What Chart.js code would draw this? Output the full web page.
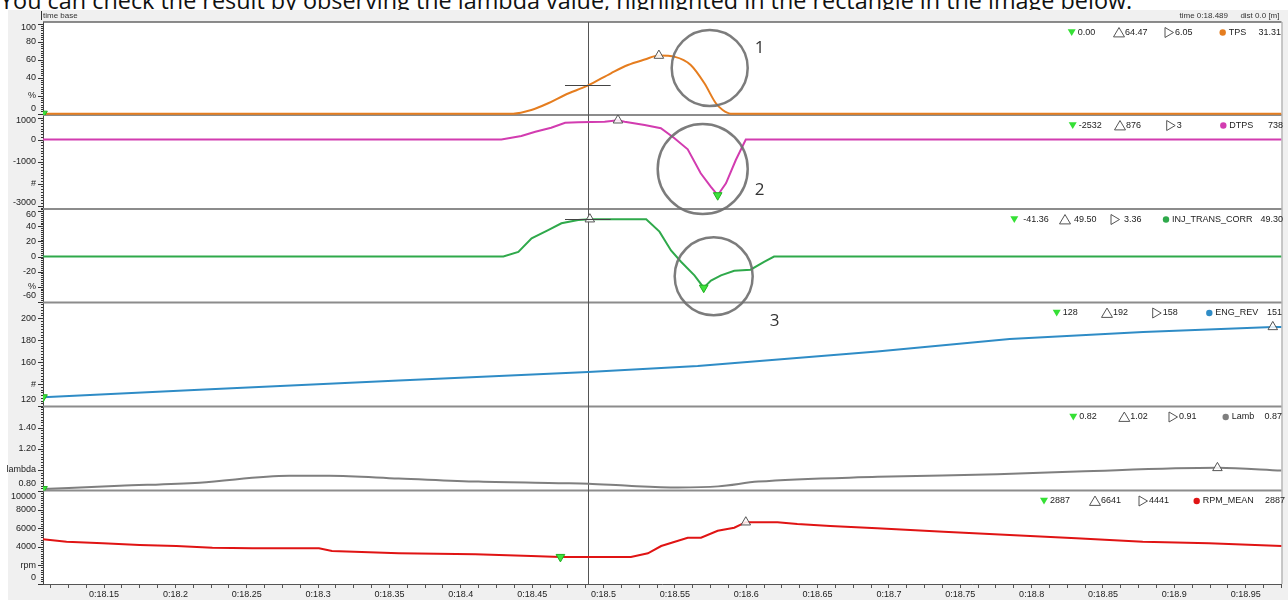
<!DOCTYPE html>
<html>
<head>
<meta charset="utf-8">
<script src="https://cdn.jsdelivr.net/npm/chart.js@4.4.0/dist/chart.umd.min.js"></script>
<style>
  html, body { margin: 0; padding: 0; background: #fff; overflow: hidden; }
  #wrap { position: relative; width: 1288px; height: 600px; }
  #caption { position: absolute; left: 0; top: -11px; font: 23.4px "Open Sans", sans-serif; line-height: 23.4px; white-space: nowrap; color: #111; }
  #chart { position: absolute; left: 0; top: 0; }
</style>
</head>
<body>
<div id="wrap">
  <div id="caption">You can check the result by observing the lambda value, highlighted in the rectangle in the image below.</div>
  <canvas id="chart" width="1288" height="600"></canvas>
</div>
<script>
(function() {
  // time base (seconds)
  const timeMin = 18.1072;
  const timeMax = 18.9751;
  const cursorTime = 18.489;

  // TPS [%]
  const tpsT = [18.1072, 18.4368, 18.4494, 18.4612, 18.4729, 18.4892, 18.5052, 18.5171, 18.5288, 18.5388, 18.5500, 18.5611, 18.5707, 18.5786, 18.5835, 18.5891, 18.9751];
  const tpsV = [0, 0, 4, 11.5, 20.7, 31.3, 44.8, 54, 60, 64.47, 63, 54, 33.7, 11.8, 4, 0, 0];
  const tpsTicks = [100, 80, 60, 40, 20, 0];
  const tpsTickText = ['100', '80', '60', '40', '%', '0'];
  const tpsStats = ['0.00', '64.47', '6.05', '31.31'];

  // DTPS [#]
  const dtpsT = [18.1072, 18.4284, 18.4424, 18.4522, 18.4633, 18.4731, 18.4822, 18.5008, 18.5101, 18.5148, 18.5288, 18.5402, 18.5497, 18.5590, 18.5681, 18.5751, 18.5800, 18.5858, 18.5927, 18.5997, 18.9751];
  const dtpsV = [0, 0, 159, 355, 536, 760, 790, 810, 876, 810, 660, 509, 55, -445, -1536, -2145, -2532, -1990, -932, 0, 0];
  const dtpsTicks = [1000, 0, -1000, -2000, -3000];
  const dtpsTickText = ['1000', '0', '-1000', '#', '-3000'];
  const dtpsStats = ['-2532', '876', '3', '738'];

  // INJ_TRANS_CORR [%]
  const injT = [18.1072, 18.4298, 18.4403, 18.4496, 18.4612, 18.4705, 18.4822, 18.4904, 18.5299, 18.5392, 18.5473, 18.5543, 18.5637, 18.5702, 18.5753, 18.5823, 18.5916, 18.6030, 18.6125, 18.6195, 18.9751];
  const injV = [0, 0, 6, 24, 35, 44, 48.5, 49.5, 49.5, 33, 8, -7, -25, -41.36, -32, -25, -19, -17.5, -7, 0, 0];
  const injTicks = [60, 40, 20, 0, -20, -40, -60];
  const injTickText = ['60', '40', '20', '0', '-20', '%', '-60'];
  const injStats = ['-41.36', '49.50', '3.36', '49.30'];

  // ENG_REV [#]
  const engT = [18.1072, 18.2168, 18.3565, 18.4892, 18.5660, 18.6917, 18.7846, 18.8782, 18.9690, 18.9751];
  const engV = [128, 134.8, 143.3, 151, 156.5, 169.6, 180.9, 187.3, 192, 192];
  const engTicks = [200, 180, 160, 140, 120];
  const engTickText = ['200', '180', '160', '#', '120'];
  const engStats = ['128', '192', '158', '151'];

  // Lamb [lambda]
  const lambT = [18.1072, 18.1610, 18.2168, 18.2797, 18.3077, 18.3565, 18.4124, 18.4686, 18.4895, 18.5174, 18.5524, 18.5803, 18.6083, 18.6921, 18.7759, 18.8318, 18.9302, 18.9750];
  const lambV = [0.82, 0.85, 0.88, 0.945, 0.945, 0.92, 0.89, 0.875, 0.87, 0.85, 0.835, 0.845, 0.89, 0.935, 0.96, 0.985, 1.02, 0.995];
  const lambTicks = [1.4, 1.2, 1.0, 0.8];
  const lambTickText = ['1.40', '1.20', 'lambda', '0.80'];
  const lambStats = ['0.82', '1.02', '0.91', '0.87'];

  // RPM_MEAN [rpm]
  const rpmT = [18.1072, 18.1237, 18.1491, 18.1749, 18.2006, 18.2259, 18.2538, 18.3006, 18.3097, 18.3565, 18.4101, 18.4494, 18.4698, 18.5192, 18.5311, 18.5404, 18.5590, 18.5683, 18.5800, 18.5916, 18.5997, 18.6219, 18.6358, 18.6589, 18.6917, 18.7383, 18.7846, 18.8313, 18.8779, 18.9242, 18.9752];
  const rpmV = [4790, 4530, 4357, 4170, 4065, 3880, 3815, 3815, 3525, 3275, 3170, 2985, 2887, 2890, 3275, 4065, 4960, 4960, 5720, 6040, 6641, 6641, 6440, 6230, 5980, 5610, 5250, 4900, 4530, 4357, 4065];
  const rpmTicks = [10000, 8000, 6000, 4000, 2000, 0];
  const rpmTickText = ['10000', '8000', '6000', '4000', 'rpm', '0'];
  const rpmStats = ['2887', '6641', '4441', '2887'];

  const FONT = '"Liberation Sans", Arial, sans-serif';

  const panels = [
    { id: 'yTps', name: 'TPS', color: '#e57d1f', t: tpsT, v: tpsV, ticks: tpsTicks, tickText: tpsTickText, stats: tpsStats,
      min: -1.5, max: 101.7, weight: 93, smooth: true, cursorMark: true, legX: [1071.7, 1119, 1169, 1222.7, 1281] },
    { id: 'yDtps', name: 'DTPS', color: '#d23cb0', t: dtpsT, v: dtpsV, ticks: dtpsTicks, tickText: dtpsTickText, stats: dtpsStats,
      min: -3159, max: 1114, weight: 94, legX: [1072.7, 1120, 1170.7, 1223.3, 1283] },
    { id: 'yInj', name: 'INJ_TRANS_CORR', color: '#2fa94b', t: injT, v: injV, ticks: injTicks, tickText: injTickText, stats: injStats,
      min: -61, max: 63, weight: 93.5, cursorMark: true, gap: 9, legX: [1014.3, 1065, 1115, 1166, 1283] },
    { id: 'yEng', name: 'ENG_REV', color: '#2f8cc6', t: engT, v: engV, ticks: engTicks, tickText: engTickText, stats: engStats,
      min: 119.6, max: 214.2, weight: 104, legX: [1056.7, 1107, 1156.7, 1209.3, 1282] },
    { id: 'yLamb', name: 'Lamb', color: '#7f7f7f', t: lambT, v: lambV, ticks: lambTicks, tickText: lambTickText, stats: lambStats,
      min: 0.806, max: 1.6, weight: 84, smooth: true, legX: [1073.3, 1124.3, 1173, 1225.7, 1282] },
    { id: 'yRpm', name: 'RPM_MEAN', color: '#e01414', t: rpmT, v: rpmV, ticks: rpmTicks, tickText: rpmTickText, stats: rpmStats,
      min: -40, max: 10070, weight: 93.5, legX: [1044, 1095, 1143, 1196.7, 1285] }
  ];

  // circled notes, anchored in data space of a panel
  const notes = [
    { axis: 'yTps', t: 18.5744, v: 50.6, r: 38, text: '1', dx: 50, dy: -20 },
    { axis: 'yDtps', t: 18.5695, v: -1341, r: 45, text: '2', dx: 57, dy: 21 },
    { axis: 'yInj', t: 18.5772, v: -26.3, r: 39, text: '3', dx: 61, dy: 45 }
  ];

  function argIndex(arr, better) {
    let k = 0;
    arr.forEach((v, i) => { if (better(v, arr[k])) k = i; });
    return k;
  }

  const datasets = [];
  panels.forEach(p => {
    datasets.push({
      data: p.t.map((t, i) => ({ x: t, y: p.v[i] })),
      yAxisID: p.id, xAxisID: 'x', order: 10,
      borderColor: p.color, borderWidth: 2, pointRadius: 0, fill: false,
      cubicInterpolationMode: p.smooth ? 'monotone' : 'default', tension: 0
    });
    const iMin = argIndex(p.v, (a, b) => a < b);
    const iMax = argIndex(p.v, (a, b) => a > b);
    datasets.push({
      data: [{ x: p.t[iMin], y: p.v[iMin] }], yAxisID: p.id, xAxisID: 'x', showLine: false, order: 1,
      pointStyle: 'triangle', rotation: 180, pointRadius: 5,
      pointBackgroundColor: '#3de23d', pointBorderColor: '#22b022', pointBorderWidth: 1
    });
    datasets.push({
      data: [{ x: p.t[iMax], y: p.v[iMax] }], yAxisID: p.id, xAxisID: 'x', showLine: false, order: 1,
      pointStyle: 'triangle', pointRadius: 5.5,
      pointBackgroundColor: 'rgba(255,255,255,0.85)', pointBorderColor: '#555', pointBorderWidth: 1
    });
  });

  const scales = {
    x: {
      type: 'linear', position: 'bottom', min: timeMin, max: timeMax,
      border: { display: true, color: '#555', width: 1 },
      grid: { display: true, drawOnChartArea: false, drawTicks: true, tickLength: 4, color: '#555' },
      ticks: {
        stepSize: 0.0125, includeBounds: false, autoSkip: false, maxRotation: 0, padding: 1,
        color: '#222', font: { family: FONT, size: 9 },
        callback: v => Math.abs(v * 20 - Math.round(v * 20)) < 1e-6 ? '0:' + (+v.toFixed(2)) : ''
      },
      afterFit(s) { s.height = 16; }
    }
  };
  panels.forEach((p, i) => {
    scales[p.id] = {
      type: 'linear', position: 'left', stack: 'panels', stackWeight: p.weight, weight: panels.length - i,
      min: p.min, max: p.max,
      grid: { display: false },
      ticks: { display: false },
      border: { display: true, color: '#444', width: 1 },
      afterFit(s) { s.width = 43; }
    };
  });

  function tri(ctx, x, y, dir, size, fill, stroke) {
    ctx.beginPath();
    if (dir === 'down') {
      ctx.moveTo(x - size, y - size * 0.8); ctx.lineTo(x + size, y - size * 0.8); ctx.lineTo(x, y + size * 0.9);
    } else if (dir === 'up') {
      ctx.moveTo(x, y - size * 0.9); ctx.lineTo(x + size, y + size * 0.8); ctx.lineTo(x - size, y + size * 0.8);
    } else {
      ctx.moveTo(x - size * 0.8, y - size); ctx.lineTo(x + size * 0.9, y); ctx.lineTo(x - size * 0.8, y + size);
    }
    ctx.closePath();
    if (fill) { ctx.fillStyle = fill; ctx.fill(); }
    if (stroke) { ctx.strokeStyle = stroke; ctx.lineWidth = 1; ctx.stroke(); }
  }

  const panelPlugin = {
    id: 'panelPlugin',
    beforeDraw(chart) {
      const { ctx, chartArea: a } = chart;
      ctx.save();
      ctx.fillStyle = '#f0f0f0';
      ctx.fillRect(8, 10, chart.width - 8, chart.height - 10);
      ctx.fillStyle = '#fff';
      ctx.fillRect(a.left, a.top, a.right - a.left, a.bottom - a.top);

      // header strip
      ctx.fillStyle = '#333';
      ctx.font = '8px ' + FONT;
      ctx.textBaseline = 'middle';
      ctx.textAlign = 'left';
      ctx.fillRect(a.left - 2, 11, 1, 9);
      ctx.fillText('time base', a.left, 16);
      ctx.textAlign = 'right';
      ctx.fillText('time 0:' + cursorTime.toFixed(3), 1228, 16);
      ctx.fillText('dist 0.0 [m]', a.right - 2, 16);
      ctx.restore();
    },
    beforeDatasetsDraw(chart) {
      const { ctx, chartArea: a } = chart;
      ctx.save();
      // panel separators
      ctx.strokeStyle = '#8c8c8c';
      ctx.lineWidth = 2;
      panels.forEach((p, i) => {
        if (i === 0) return;
        const s = chart.scales[p.id];
        ctx.beginPath(); ctx.moveTo(a.left, s.top); ctx.lineTo(a.right, s.top); ctx.stroke();
      });
      // frame
      ctx.strokeStyle = '#666';
      ctx.lineWidth = 1.5;
      ctx.beginPath(); ctx.moveTo(a.left, a.top); ctx.lineTo(a.right, a.top); ctx.stroke();
      ctx.strokeStyle = '#999';
      ctx.lineWidth = 1;
      ctx.beginPath(); ctx.moveTo(a.right + 0.5, a.top); ctx.lineTo(a.right + 0.5, a.bottom); ctx.stroke();

      // cursor
      const cx = Math.round(chart.scales.x.getPixelForValue(cursorTime)) + 0.5;
      ctx.strokeStyle = '#555';
      ctx.lineWidth = 1;
      ctx.beginPath(); ctx.moveTo(cx, a.top); ctx.lineTo(cx, a.bottom); ctx.stroke();
      ctx.restore();
    },
    afterDatasetsDraw(chart) {
      const { ctx } = chart;
      const xs = chart.scales.x;
      ctx.save();

      // cursor value marks
      ctx.strokeStyle = '#444';
      ctx.lineWidth = 1;
      panels.forEach(p => {
        if (!p.cursorMark) return;
        const s = chart.scales[p.id];
        const val = parseFloat(p.stats[3]);
        const y = Math.round(s.getPixelForValue(val)) + 0.5;
        ctx.beginPath();
        ctx.moveTo(xs.getPixelForValue(cursorTime - 0.016), y);
        ctx.lineTo(xs.getPixelForValue(cursorTime + 0.016), y);
        ctx.stroke();
      });

      // y axis ticks and labels
      ctx.font = '9px ' + FONT;
      ctx.textAlign = 'right';
      ctx.textBaseline = 'middle';
      panels.forEach(p => {
        const s = chart.scales[p.id];
        const major = Math.abs(p.ticks[0] - p.ticks[1]);
        const minor = major / 8;
        ctx.fillStyle = '#333';
        for (let v = Math.ceil(p.min / minor) * minor; v <= p.max; v += minor) {
          const py = Math.round(s.getPixelForValue(v));
          ctx.fillRect(s.right - 2, py, 2, 1);
        }
        p.ticks.forEach((v, i) => {
          const py = s.getPixelForValue(v);
          ctx.fillStyle = '#333';
          ctx.fillRect(s.right - 5, Math.round(py), 5, 1);
          const ly = Math.min(Math.max(py, s.top + 6), s.bottom - 6.5);
          ctx.fillStyle = '#222';
          ctx.fillText(p.tickText[i], s.right - 7, ly);
        });
      });

      // per-panel legends
      ctx.textAlign = 'left';
      panels.forEach(p => {
        const s = chart.scales[p.id];
        const ly = s.top + 10.5;
        const g = p.gap || 6;
        const [xMin, xMax, xAvg, xDot, xVal] = p.legX;
        tri(ctx, xMin, ly, 'down', 4, '#35e035', null);
        tri(ctx, xMax, ly, 'up', 5.5, null, '#555');
        tri(ctx, xAvg, ly, 'right', 5, null, '#555');
        ctx.fillStyle = p.color;
        ctx.beginPath(); ctx.arc(xDot, ly, 3.2, 0, Math.PI * 2); ctx.fill();
        ctx.fillStyle = '#222';
        ctx.textAlign = 'left';
        ctx.fillText(p.stats[0], xMin + g, ly);
        ctx.fillText(p.stats[1], xMax + g, ly);
        ctx.fillText(p.stats[2], xAvg + g, ly);
        ctx.fillText(p.name, xDot + 6, ly);
        ctx.textAlign = 'right';
        ctx.fillText(p.stats[3], xVal, ly);
      });

      // circled notes
      notes.forEach(n => {
        const s = chart.scales[n.axis];
        const cx = xs.getPixelForValue(n.t);
        const cy = s.getPixelForValue(n.v);
        ctx.strokeStyle = 'rgba(110,110,110,0.9)';
        ctx.lineWidth = 2.5;
        ctx.beginPath(); ctx.arc(cx, cy, n.r, 0, Math.PI * 2); ctx.stroke();
        ctx.fillStyle = '#333';
        ctx.font = '17px "Open Sans", sans-serif';
        ctx.textAlign = 'center';
        ctx.fillText(n.text, cx + n.dx, cy + n.dy);
      });
      ctx.restore();
    }
  };

  new Chart(document.getElementById('chart').getContext('2d'), {
    type: 'line',
    data: { datasets },
    options: {
      responsive: false,
      animation: false,
      events: [],
      layout: { padding: { top: 22, right: 2, bottom: 0, left: 0 } },
      plugins: { legend: { display: false }, tooltip: { enabled: false } },
      scales
    },
    plugins: [panelPlugin]
  });
})();
</script>
</body>
</html>
